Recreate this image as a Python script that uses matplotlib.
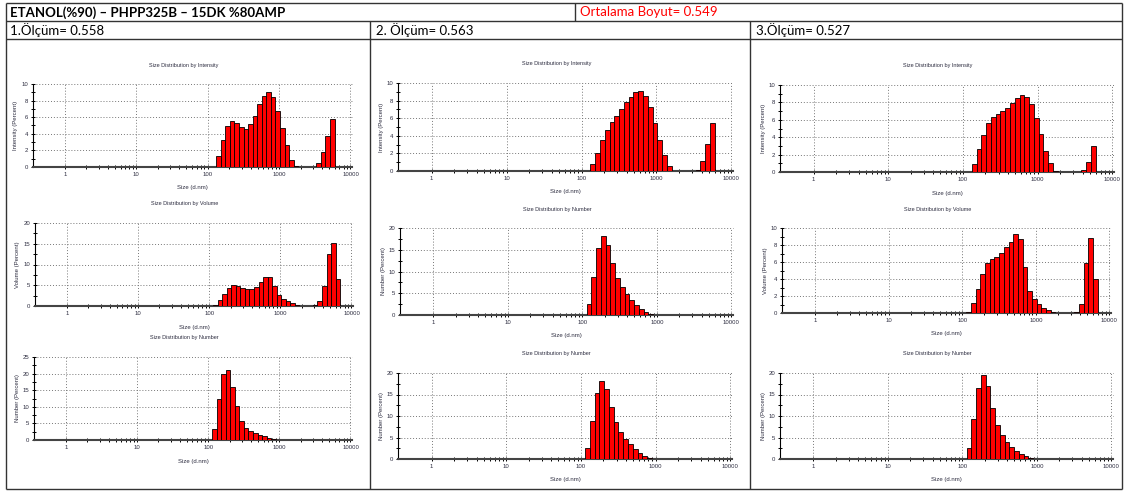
import numpy as np
import matplotlib
matplotlib.use("Agg")
import matplotlib.pyplot as plt
from matplotlib.ticker import FixedLocator, NullFormatter, MultipleLocator

# header texts
title_main = "ETANOL(%90) – PHPP325B – 15DK %80AMP"
title_avg = "Ortalama Boyut= 0.549"
run_labels = ["1.Ölçüm= 0.558", "2. Ölçüm= 0.563", "3.Ölçüm= 0.527"]

# size classes (d.nm) and percentages
m1_int_sizes = [141.8, 164.2, 190.1, 220.2, 255.0, 295.3, 342.0, 396.1, 458.7, 531.2, 615.1,
                712.4, 825.0, 955.4, 1106, 1281, 1484, 1718, 3580, 4145, 4801, 5560]
m1_int_vals = [1.3, 3.3, 4.9, 5.5, 5.3, 4.8, 4.6, 5.2, 6.2, 7.6, 8.6,
               9.0, 8.4, 6.8, 4.7, 2.6, 0.9, 0.1, 0.5, 1.8, 3.7, 5.8]

m1_vol_sizes = [122.4, 141.8, 164.2, 190.1, 220.2, 255.0, 295.3, 342.0, 396.1, 458.7, 531.2,
                615.1, 712.4, 825.0, 955.4, 1106, 1281, 1484, 1718,
                3091, 3580, 4145, 4801, 5560, 6439]
m1_vol_vals = [0.3, 1.4, 3.0, 4.4, 5.0, 4.7, 4.4, 4.0, 4.0, 4.6, 5.7,
               7.0, 7.0, 4.9, 2.7, 1.6, 1.2, 0.7, 0.3,
               0.3, 1.2, 4.7, 12.6, 15.3, 6.4]

num_sizes = [122.4, 141.8, 164.2, 190.1, 220.2, 255.0, 295.3, 342.0, 396.1, 458.7, 531.2,
             615.1, 712.4, 825.0]
m1_num_vals = [3.4, 12.5, 20.0, 21.2, 16.1, 10.1, 5.8, 3.7, 2.7, 2.2, 1.6, 1.2, 0.7, 0.3]

m2_int_sizes = [141.8, 164.2, 190.1, 220.2, 255.0, 295.3, 342.0, 396.1, 458.7, 531.2, 615.1,
                712.4, 825.0, 955.4, 1106, 1281, 1484, 3580, 4145, 4801, 5560]
m2_int_vals = [0.8, 2.0, 3.5, 4.7, 5.6, 6.3, 7.1, 7.8, 8.4, 9.0, 9.1,
               8.5, 7.3, 5.5, 3.5, 1.8, 0.6, 0.1, 1.1, 3.1, 5.5]

m2_num_vals = [2.5, 8.8, 15.4, 18.2, 16.2, 12.0, 8.6, 6.4, 4.8, 3.4, 2.3, 1.4, 0.6, 0.2]
m2_num2_vals = [2.5, 8.8, 15.4, 18.2, 16.2, 12.1, 8.6, 6.3, 4.6, 3.4, 2.3, 1.5, 0.7, 0.3]

m3_int_sizes = [141.8, 164.2, 190.1, 220.2, 255.0, 295.3, 342.0, 396.1, 458.7, 531.2, 615.1,
                712.4, 825.0, 955.4, 1106, 1281, 1484, 1718, 4145, 4801, 5560]
m3_int_vals = [0.9, 2.6, 4.3, 5.6, 6.3, 6.7, 7.0, 7.3, 7.9, 8.5, 8.8,
               8.6, 7.8, 6.2, 4.4, 2.4, 1.0, 0.15, 0.2, 1.2, 3.0]

m3_vol_sizes = [122.4, 141.8, 164.2, 190.1, 220.2, 255.0, 295.3, 342.0, 396.1, 458.7, 531.2,
                615.1, 712.4, 825.0, 955.4, 1106, 1281, 1484, 1718,
                3580, 4145, 4801, 5560, 6439]
m3_vol_vals = [0.15, 1.2, 2.8, 4.6, 5.9, 6.3, 6.6, 7.1, 7.8, 8.4, 9.3,
               8.7, 5.4, 2.6, 1.6, 1.1, 0.6, 0.3, 0.1,
               0.1, 1.1, 5.9, 8.8, 4.0]

m3_num_vals = [2.5, 9.3, 16.6, 19.5, 16.9, 11.9, 8.0, 5.6, 3.9, 2.8, 1.9, 1.2, 0.6, 0.2]

W, H = 1126, 492
fig = plt.figure(figsize=(W / 100, H / 100), dpi=100)
fig.patch.set_facecolor("white")

# overlay in pixel coordinates for the table
bg = fig.add_axes([0, 0, 1, 1])
bg.set_xlim(0, W)
bg.set_ylim(H, 0)
bg.axis("off")

line_kw = dict(color="#333333", lw=1.0, solid_capstyle="butt")
for y in [3, 21, 39, 489]:
    bg.plot([6, 1122], [y, y], **line_kw)
for x in [6, 1122]:
    bg.plot([x, x], [3, 489], **line_kw)
bg.plot([575, 575], [3, 21], **line_kw)
for x in [370, 750]:
    bg.plot([x, x], [21, 489], **line_kw)

hfont = "Lato"
bg.text(10, 12.5, title_main, fontsize=9.5, fontweight="bold", family=hfont,
        va="center", ha="left", color="black")
bg.text(580, 12.5, title_avg, fontsize=9.5, family=hfont, va="center", ha="left", color="#ff0000")
for x, lab in zip([10, 376, 756], run_labels):
    bg.text(x, 30.5, lab, fontsize=9.5, family=hfont, va="center", ha="left", color="black")

txt_color = "#2d2d40"
cfont = "Liberation Sans"
ratio = 10 ** 0.0637


def px_rect(left, top, right, bottom):
    return [left / W, 1 - bottom / H, (right - left) / W, (bottom - top) / H]


def chart(box, sizes, vals, ymax, ystep, title, ylabel):
    left, top, right, bottom = box
    ax = fig.add_axes(px_rect(left, top, right, bottom))
    ax.set_facecolor("none")
    s = np.array(sizes)
    edges_l = s / np.sqrt(ratio)
    widths = s * np.sqrt(ratio) - edges_l
    ax.bar(edges_l, vals, width=widths, align="edge", color="#ff0000",
           edgecolor="black", linewidth=0.6, zorder=3)
    ax.set_xscale("log")
    ax.set_xlim(0.356, 10500)
    ax.set_ylim(0, ymax)
    majors = [1, 10, 100, 1000, 10000]
    minors = [m * d for d in [1, 10, 100, 1000] for m in range(2, 10)]
    ax.xaxis.set_major_locator(FixedLocator(majors))
    ax.xaxis.set_minor_locator(FixedLocator(minors))
    ax.xaxis.set_minor_formatter(NullFormatter())
    ax.set_xticklabels([str(v) for v in majors])
    ax.yaxis.set_major_locator(MultipleLocator(ystep))
    ax.yaxis.set_minor_locator(MultipleLocator(ystep / 2))
    ax.tick_params(which="both", direction="inout", length=3, width=0.7, color="black",
                   labelsize=4.3, labelcolor=txt_color, pad=2)
    for lab in ax.get_xticklabels() + ax.get_yticklabels():
        lab.set_family(cfont)
    ax.grid(True, which="major", linestyle=(0, (1, 2)), color="#777777", linewidth=0.7)
    for side in ["top", "right"]:
        ax.spines[side].set_visible(False)
    ax.spines["left"].set_color("black")
    ax.spines["left"].set_linewidth(0.8)
    ax.spines["bottom"].set_color("#444444")
    ax.spines["bottom"].set_linewidth(1.5)
    for gl in ax.get_xgridlines() + ax.get_ygridlines():
        gl.set_clip_on(False)
    cx = (left + right) / 2
    bg.text(cx - 9, top - 19, title, fontsize=4, family=cfont, color=txt_color,
            ha="center", va="center")
    bg.text(cx, bottom + 21, "Size (d.nm)", fontsize=4.3, family=cfont, color=txt_color,
            ha="center", va="center")
    bg.text(left - 17, (top + bottom) / 2, ylabel, fontsize=4.3, family=cfont, color=txt_color,
            ha="center", va="center", rotation=90)
    return ax


t_int = "Size Distribution by Intensity"
t_vol = "Size Distribution by Volume"
t_num = "Size Distribution by Number"
y_int = "Intensity (Percent)"
y_vol = "Volume (Percent)"
y_num = "Number (Percent)"

chart((33, 84, 352, 167), m1_int_sizes, m1_int_vals, 10, 2, t_int, y_int)
chart((35, 223, 353, 306), m1_vol_sizes, m1_vol_vals, 20, 5, t_vol, y_vol)
chart((34, 357, 352, 440), num_sizes, m1_num_vals, 25, 5, t_num, y_num)

chart((398, 83, 733, 171), m2_int_sizes, m2_int_vals, 10, 2, t_int, y_int)
chart((400, 228, 733, 315), num_sizes, m2_num_vals, 20, 5, t_num, y_num)
chart((398, 373, 732, 459), num_sizes, m2_num2_vals, 20, 5, t_num, y_num)

chart((780, 85, 1114, 172), m3_int_sizes, m3_int_vals, 10, 2, t_int, y_int)
chart((782, 228, 1111, 313), m3_vol_sizes, m3_vol_vals, 10, 2, t_vol, y_vol)
chart((780, 373, 1113, 459), num_sizes, m3_num_vals, 20, 5, t_num, y_num)

fig.savefig("out.png", dpi=100, facecolor="white")
